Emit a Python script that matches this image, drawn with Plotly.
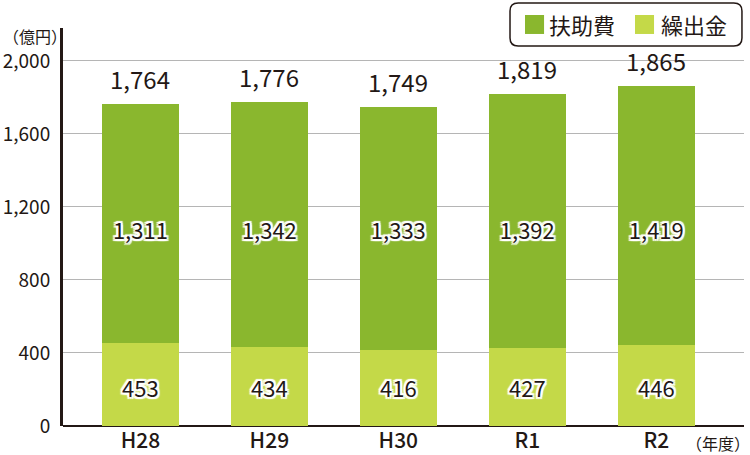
import plotly.graph_objects as go

# データ
years = ["H28", "H29", "H30", "R1", "R2"]
fujo = [1311, 1342, 1333, 1392, 1419]      # 扶助費
kuridashi = [453, 434, 416, 427, 446]      # 繰出金
totals = [1764, 1776, 1749, 1819, 1865]
series_names = ["扶助費", "繰出金"]
colors = ["#8ab72e", "#c4d948"]

FONT = "Noto Sans CJK JP, Open Sans, sans-serif"
INK = "#231815"
halo = ", ".join(f"{dx}px {dy}px 1px white" for dx in (-2, 0, 2) for dy in (-2, 0, 2))

fig = go.Figure()

# 繰出金（下）
fig.add_trace(go.Bar(x=years, y=kuridashi, name=series_names[1], marker_color=colors[1],
                     width=0.6, marker_line_width=0))
# 扶助費（上）
fig.add_trace(go.Bar(x=years, y=fujo, name=series_names[0], marker_color=colors[0],
                     width=0.6, marker_line_width=0))

# 棒の中の数値（白縁取り）
fig.add_trace(go.Scatter(x=years, y=[1056] * len(years), mode="text",
                         text=[f"{v:,}" for v in fujo], showlegend=False, hoverinfo="skip",
                         textfont=dict(family=FONT, size=22, color=INK, shadow=halo)))
fig.add_trace(go.Scatter(x=years, y=[191] * len(years), mode="text",
                         text=[f"{v:,}" for v in kuridashi], showlegend=False, hoverinfo="skip",
                         textfont=dict(family=FONT, size=22, color=INK, shadow=halo)))

# 合計
for yr, t in zip(years, totals):
    fig.add_annotation(x=yr, y=t, text=f"{t:,}", showarrow=False, yanchor="bottom", yshift=6,
                       font=dict(family=FONT, size=24, color=INK))

# 単位
fig.add_annotation(x=-0.041, y=0.981, xref="paper", yref="paper", text="（億円）", showarrow=False,
                   xanchor="center", yanchor="middle", font=dict(family=FONT, size=16, color=INK))
fig.add_annotation(x=0.962, y=-0.042, xref="paper", yref="paper", text="（年度）", showarrow=False,
                   xanchor="center", yanchor="middle", font=dict(family=FONT, size=16, color=INK))

# 凡例（角丸の枠）
x0, x1, y0, y1, rx, ry = 0.6564, 0.997, 0.9548, 1.0627, 0.012, 0.02
path = (f"M {x0+rx},{y0} L {x1-rx},{y0} Q {x1},{y0} {x1},{y0+ry} L {x1},{y1-ry} "
        f"Q {x1},{y1} {x1-rx},{y1} L {x0+rx},{y1} Q {x0},{y1} {x0},{y1-ry} "
        f"L {x0},{y0+ry} Q {x0},{y0} {x0+rx},{y0} Z")
fig.add_shape(type="path", path=path, xref="paper", yref="paper",
              line=dict(color=INK, width=1.5), fillcolor="white")
for sx, tx, name, col in [(0.6784, 0.711, series_names[0], colors[0]),
                          (0.8399, 0.875, series_names[1], colors[1])]:
    fig.add_shape(type="rect", xref="paper", yref="paper", x0=sx, x1=sx + 0.028,
                  y0=0.985, y1=1.0326, fillcolor=col, line_width=0)
    fig.add_annotation(x=tx, y=1.01, xref="paper", yref="paper", text=name, showarrow=False,
                       xanchor="left", yanchor="middle", font=dict(family=FONT, size=22, color=INK))

fig.update_layout(
    barmode="stack",
    width=750, height=455,
    margin=dict(l=63, r=6, t=28, b=28.5),
    paper_bgcolor="white", plot_bgcolor="white",
    showlegend=False,
    font=dict(family=FONT, color=INK),
    xaxis=dict(range=[-0.6, 4.68], showgrid=False, ticks="", showline=False, automargin=False,
               tickfont=dict(size=21, color=INK, weight=500), ticklabelstandoff=0),
    yaxis=dict(range=[0, 2180], tickvals=[0, 400, 800, 1200, 1600, 2000], automargin=False,
               tickformat=",", showgrid=True, gridcolor="#b5b5b5", gridwidth=1,
               showline=True, linecolor=INK, linewidth=3,
               zeroline=True, zerolinecolor=INK, zerolinewidth=2,
               tickfont=dict(size=19, color=INK), ticklabelstandoff=6),
)

fig.write_html("out.html", config={"displayModeBar": False},
               post_script="document.body.style.margin='0';")
